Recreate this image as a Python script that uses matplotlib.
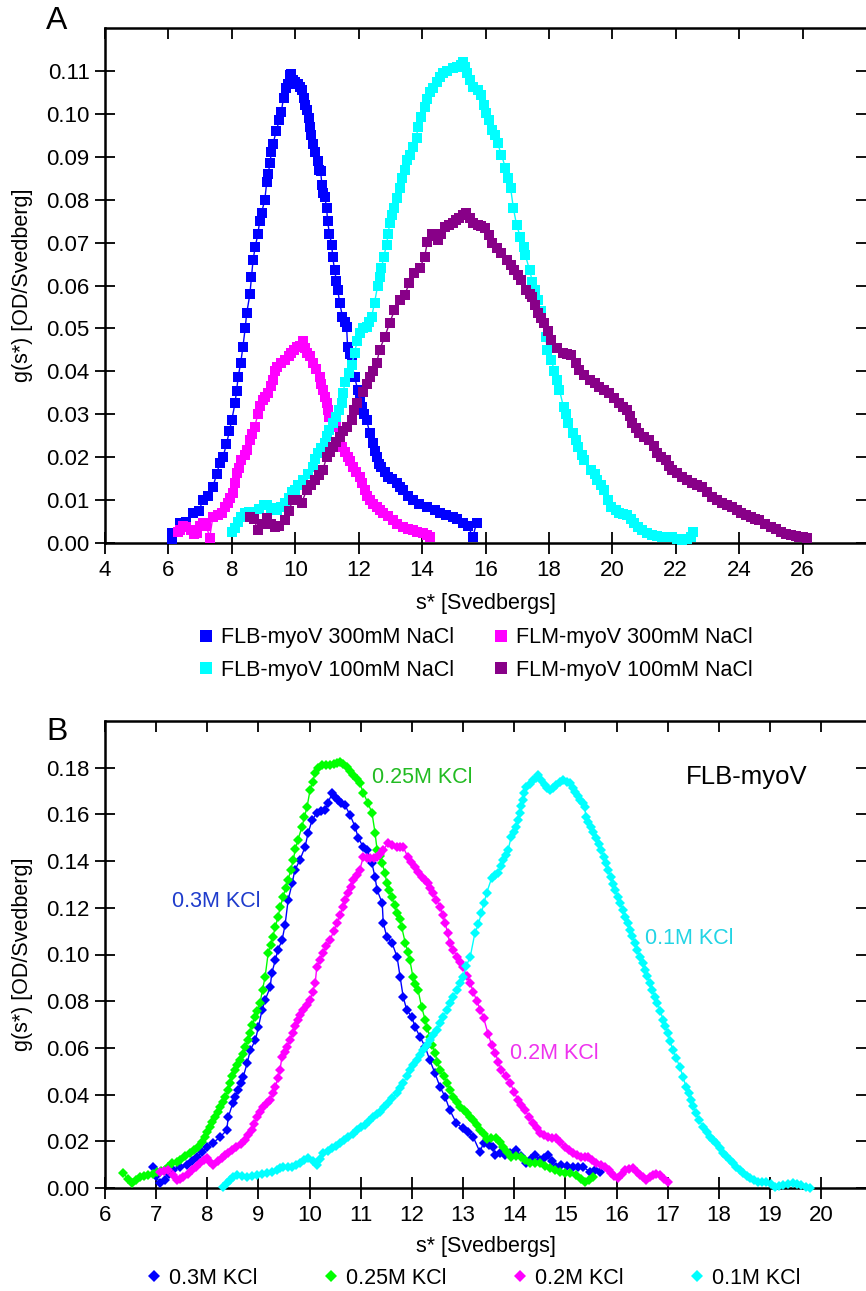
import numpy as np
import matplotlib
matplotlib.use("Agg")
import matplotlib.pyplot as plt
from matplotlib.lines import Line2D
from matplotlib.ticker import FormatStrFormatter

plt.rcParams['font.family'] = ['Liberation Sans', 'DejaVu Sans']

# ---------------- Panel A data: (s*, g(s*)) ----------------
a_flb300 = [(6.10,0.0010),(6.12,0.0023),(6.36,0.0047),(6.55,0.0050),(6.77,0.0070),(6.95,0.0075),
 (7.10,0.0100),(7.25,0.0110),(7.40,0.0130),(7.52,0.0160),(7.62,0.0187),(7.72,0.0200),(7.83,0.0230),
 (7.92,0.0260),(8.00,0.0287),(8.10,0.0326),(8.15,0.0355),(8.20,0.0387),(8.28,0.0420),(8.35,0.0457),
 (8.42,0.0500),(8.47,0.0536),(8.57,0.0580),(8.62,0.0620),(8.67,0.0660),(8.74,0.0690),(8.82,0.0720),
 (8.88,0.0750),(8.94,0.0770),(9.04,0.0800),(9.10,0.0840),(9.15,0.0860),(9.20,0.0886),(9.25,0.0910),
 (9.30,0.0930),(9.40,0.0960),(9.50,0.0986),(9.56,0.1005),(9.63,0.1037),(9.70,0.1060),(9.76,0.1070),
 (9.83,0.1090),(9.88,0.1092),(9.92,0.1080),(10.00,0.1075),(10.08,0.1070),(10.14,0.1063),(10.20,0.1055),
 (10.27,0.1037),(10.32,0.1020),(10.36,0.1010),(10.42,0.0990),(10.46,0.0970),(10.50,0.0950),(10.55,0.0930),
 (10.62,0.0910),(10.71,0.0890),(10.76,0.0870),(10.80,0.0866),(10.84,0.0835),(10.88,0.0815),(10.93,0.0807),
 (10.99,0.0780),(11.02,0.0750),(11.08,0.0720),(11.15,0.0695),(11.18,0.0667),(11.24,0.0636),(11.30,0.0610),
 (11.34,0.0590),(11.40,0.0560),(11.49,0.0527),(11.56,0.0515),(11.62,0.0504),(11.65,0.0457),(11.72,0.0440),
 (11.78,0.0420),(11.87,0.0387),(11.97,0.0357),(12.03,0.0335),(12.09,0.0317),(12.18,0.0300),(12.25,0.0287),
 (12.35,0.0256),(12.44,0.0233),(12.50,0.0215),(12.57,0.0200),(12.65,0.0185),(12.72,0.0177),(12.82,0.0165),
 (12.91,0.0154),(13.05,0.0148),(13.20,0.0140),(13.30,0.0130),(13.39,0.0124),(13.55,0.0110),(13.70,0.0100),
 (13.90,0.0092),(14.14,0.0084),(14.40,0.0076),(14.55,0.0070),(14.75,0.0065),(14.96,0.0060),(15.10,0.0055),
 (15.28,0.0047),(15.45,0.0040),(15.60,0.0014),(15.72,0.0047)]

a_flm300 = [(6.30,0.0025),(6.36,0.0030),(6.45,0.0040),(6.57,0.0037),(6.70,0.0030),(6.80,0.0020),(6.90,0.0023),
 (7.00,0.0040),(7.10,0.0047),(7.20,0.0040),(7.30,0.0012),(7.40,0.0060),(7.55,0.0065),(7.68,0.0070),
 (7.80,0.0085),(7.87,0.0093),(7.95,0.0105),(8.03,0.0117),(8.10,0.0140),(8.15,0.0163),(8.22,0.0175),
 (8.30,0.0193),(8.40,0.0205),(8.47,0.0217),(8.57,0.0240),(8.65,0.0255),(8.72,0.0270),(8.82,0.0300),
 (8.90,0.0320),(8.98,0.0333),(9.05,0.0340),(9.13,0.0350),(9.22,0.0365),(9.30,0.0380),(9.35,0.0400),
 (9.42,0.0410),(9.55,0.0420),(9.67,0.0427),(9.80,0.0435),(9.88,0.0443),(9.96,0.0450),(10.04,0.0457),
 (10.15,0.0460),(10.24,0.0470),(10.30,0.0455),(10.36,0.0443),(10.45,0.0435),(10.55,0.0420),(10.65,0.0405),
 (10.77,0.0387),(10.82,0.0370),(10.87,0.0357),(10.93,0.0340),(10.99,0.0326),(11.04,0.0310),(11.08,0.0294),
 (11.18,0.0280),(11.30,0.0270),(11.40,0.0245),(11.49,0.0224),(11.57,0.0212),(11.65,0.0200),(11.72,0.0190),
 (11.81,0.0177),(11.92,0.0165),(12.03,0.0154),(12.10,0.0140),(12.19,0.0124),(12.27,0.0110),(12.35,0.0100),
 (12.45,0.0092),(12.57,0.0084),(12.66,0.0077),(12.76,0.0070),(12.92,0.0062),(13.07,0.0054),(13.22,0.0045),
 (13.39,0.0037),(13.55,0.0033),(13.70,0.0030),(13.85,0.0025),(14.02,0.0023),(14.15,0.0018),(14.24,0.0015)]

a_flb100 = [(8.00,0.0026),(8.10,0.0035),(8.20,0.0050),(8.30,0.0060),(8.41,0.0070),(8.55,0.0072),(8.67,0.0073),
 (8.85,0.0080),(9.00,0.0088),(9.10,0.0088),(9.25,0.0082),(9.42,0.0077),(9.55,0.0085),(9.67,0.0093),
 (9.80,0.0105),(9.90,0.0118),(9.98,0.0124),(10.10,0.0135),(10.24,0.0147),(10.40,0.0160),(10.55,0.0177),
 (10.63,0.0195),(10.71,0.0210),(10.82,0.0222),(10.93,0.0233),(11.00,0.0250),(11.08,0.0263),(11.20,0.0280),
 (11.30,0.0294),(11.38,0.0310),(11.46,0.0326),(11.52,0.0350),(11.56,0.0375),(11.68,0.0395),(11.78,0.0415),
 (11.87,0.0443),(11.95,0.0470),(12.03,0.0490),(12.13,0.0500),(12.25,0.0504),(12.33,0.0515),(12.41,0.0527),
 (12.50,0.0560),(12.60,0.0600),(12.66,0.0620),(12.72,0.0640),(12.79,0.0667),(12.88,0.0695),(12.93,0.0720),
 (12.98,0.0746),(13.05,0.0765),(13.13,0.0780),(13.20,0.0805),(13.29,0.0828),(13.37,0.0850),(13.45,0.0870),
 (13.54,0.0893),(13.62,0.0905),(13.70,0.0923),(13.83,0.0944),(13.86,0.0970),(13.98,0.0993),(14.08,0.1016),
 (14.16,0.1035),(14.24,0.1050),(14.35,0.1060),(14.46,0.1075),(14.55,0.1085),(14.65,0.1095),(14.80,0.1100),
 (14.96,0.1107),(15.10,0.1110),(15.24,0.1114),(15.28,0.1121),(15.35,0.1110),(15.43,0.1095),(15.52,0.1080),
 (15.60,0.1063),(15.75,0.1055),(15.87,0.1044),(15.95,0.1020),(16.03,0.1002),(16.10,0.0985),(16.19,0.0963),
 (16.30,0.0950),(16.38,0.0932),(16.50,0.0905),(16.63,0.0874),(16.72,0.0850),(16.79,0.0828),(16.88,0.0780),
 (16.98,0.0741),(17.10,0.0713),(17.20,0.0690),(17.26,0.0670),(17.39,0.0636),(17.48,0.0608),(17.56,0.0590),
 (17.64,0.0566),(17.75,0.0540),(17.83,0.0513),(17.90,0.0480),(17.95,0.0450),(18.08,0.0427),(18.17,0.0400),
 (18.25,0.0380),(18.33,0.0357),(18.46,0.0317),(18.53,0.0300),(18.61,0.0280),(18.77,0.0256),(18.85,0.0240),
 (18.93,0.0224),(19.05,0.0205),(19.12,0.0193),(19.34,0.0170),(19.45,0.0160),(19.53,0.0147),(19.65,0.0135),
 (19.75,0.0124),(19.85,0.0100),(19.97,0.0084),(20.10,0.0078),(20.22,0.0070),(20.35,0.0068),(20.47,0.0065),
 (20.60,0.0055),(20.69,0.0047),(20.82,0.0038),(20.94,0.0030),(21.10,0.0024),(21.26,0.0019),(21.40,0.0017),
 (21.57,0.0014),(21.75,0.0014),(21.89,0.0014),(22.05,0.0010),(22.20,0.0007),(22.35,0.0010),(22.48,0.0014),
 (22.55,0.0025)]

a_flm100 = [(8.57,0.0060),(8.70,0.0055),(8.82,0.0030),(8.95,0.0045),(9.10,0.0058),(9.22,0.0045),(9.36,0.0037),
 (9.50,0.0040),(9.67,0.0054),(9.80,0.0075),(9.92,0.0100),(10.05,0.0100),(10.20,0.0093),(10.36,0.0124),
 (10.50,0.0135),(10.61,0.0147),(10.75,0.0158),(10.87,0.0170),(10.99,0.0200),(11.10,0.0212),(11.18,0.0224),
 (11.30,0.0235),(11.40,0.0247),(11.52,0.0260),(11.62,0.0270),(11.78,0.0287),(11.86,0.0310),(11.94,0.0326),
 (12.13,0.0352),(12.25,0.0370),(12.35,0.0387),(12.45,0.0400),(12.57,0.0420),(12.66,0.0450),(12.82,0.0480),
 (12.98,0.0513),(13.13,0.0543),(13.29,0.0566),(13.45,0.0578),(13.60,0.0606),(13.76,0.0630),(13.92,0.0640),
 (14.08,0.0667),(14.17,0.0702),(14.30,0.0720),(14.40,0.0715),(14.49,0.0706),(14.60,0.0720),(14.71,0.0737),
 (14.85,0.0742),(14.96,0.0746),(15.07,0.0752),(15.18,0.0758),(15.28,0.0765),(15.40,0.0769),(15.50,0.0758),
 (15.60,0.0746),(15.75,0.0742),(15.87,0.0738),(15.97,0.0734),(16.10,0.0718),(16.22,0.0700),(16.35,0.0688),
 (16.50,0.0676),(16.69,0.0660),(16.80,0.0648),(16.91,0.0636),(17.02,0.0625),(17.13,0.0613),(17.29,0.0590),
 (17.40,0.0580),(17.48,0.0573),(17.56,0.0555),(17.64,0.0536),(17.76,0.0525),(17.86,0.0513),(17.97,0.0495),
 (18.08,0.0473),(18.25,0.0455),(18.43,0.0443),(18.57,0.0440),(18.71,0.0438),(18.85,0.0420),(18.96,0.0403),
 (19.10,0.0392),(19.28,0.0380),(19.45,0.0372),(19.59,0.0364),(19.75,0.0357),(19.90,0.0350),(20.05,0.0338),
 (20.22,0.0326),(20.35,0.0318),(20.47,0.0310),(20.55,0.0295),(20.63,0.0280),(20.75,0.0268),(20.85,0.0256),
 (21.00,0.0248),(21.17,0.0240),(21.30,0.0225),(21.42,0.0210),(21.55,0.0200),(21.70,0.0193),(21.80,0.0180),
 (21.89,0.0170),(22.05,0.0162),(22.20,0.0154),(22.35,0.0147),(22.52,0.0140),(22.68,0.0135),(22.83,0.0130),
 (23.00,0.0118),(23.15,0.0107),(23.30,0.0100),(23.46,0.0093),(23.62,0.0088),(23.78,0.0084),(23.92,0.0077),
 (24.06,0.0070),(24.22,0.0065),(24.38,0.0060),(24.50,0.0057),(24.63,0.0054),(24.80,0.0045),(25.00,0.0037),
 (25.15,0.0032),(25.32,0.0026),(25.48,0.0022),(25.64,0.0019),(25.78,0.0016),(25.89,0.0014),(26.02,0.0013),
 (26.14,0.0012)]

a_labels = ["FLB-myoV 300mM NaCl", "FLM-myoV 300mM NaCl", "FLB-myoV 100mM NaCl", "FLM-myoV 100mM NaCl"]
a_colors = ["#0000ff", "#ff00ff", "#00ffff", "#880088"]

# ---------------- Panel B data ----------------
b_03 = [(6.94,0.0090),(7.00,0.0050),(7.07,0.0020),(7.17,0.0034),(7.25,0.0060),(7.33,0.0077),(7.47,0.0090),
 (7.60,0.0099),(7.70,0.0115),(7.80,0.0133),(7.90,0.0155),(7.99,0.0176),(8.11,0.0193),(8.25,0.0218),
 (8.38,0.0248),(8.41,0.0304),(8.50,0.0364),(8.55,0.0390),(8.60,0.0420),(8.65,0.0450),(8.70,0.0475),
 (8.78,0.0535),(8.84,0.0590),(8.94,0.0634),(9.00,0.0690),(9.07,0.0762),(9.13,0.0805),(9.23,0.0860),
 (9.26,0.0920),(9.33,0.0976),(9.38,0.1020),(9.46,0.1060),(9.52,0.1126),(9.58,0.1233),(9.66,0.1306),
 (9.71,0.1360),(9.81,0.1405),(9.91,0.1460),(9.97,0.1520),(10.05,0.1576),(10.14,0.1606),(10.22,0.1615),
 (10.30,0.1619),(10.36,0.1650),(10.44,0.1690),(10.50,0.1675),(10.56,0.1660),(10.62,0.1650),(10.69,0.1640),
 (10.79,0.1598),(10.89,0.1546),(10.95,0.1500),(11.05,0.1460),(11.12,0.1447),(11.22,0.1390),(11.28,0.1330),
 (11.32,0.1276),(11.42,0.1220),(11.44,0.1135),(11.51,0.1075),(11.61,0.1050),(11.71,0.0990),(11.77,0.0904),
 (11.83,0.0818),(11.90,0.0762),(12.00,0.0732),(12.06,0.0690),(12.16,0.0647),(12.26,0.0604),(12.35,0.0548),
 (12.45,0.0492),(12.55,0.0433),(12.65,0.0390),(12.74,0.0334),(12.87,0.0278),(13.00,0.0255),(13.10,0.0240),
 (13.20,0.0218),(13.33,0.0154),(13.40,0.0193),(13.50,0.0185),(13.59,0.0176),(13.62,0.0141),(13.72,0.0150),
 (13.82,0.0141),(13.92,0.0152),(14.04,0.0163),(14.13,0.0135),(14.23,0.0107),(14.33,0.0125),(14.41,0.0141),
 (14.50,0.0120),(14.58,0.0130),(14.66,0.0141),(14.74,0.0115),(14.82,0.0090),(14.91,0.0099),(15.03,0.0095),
 (15.15,0.0090),(15.25,0.0092),(15.35,0.0090),(15.48,0.0069),(15.58,0.0075),(15.68,0.0069)]

b_025 = [(6.35,0.0064),(6.45,0.0040),(6.53,0.0020),(6.60,0.0035),(6.68,0.0047),(6.76,0.0050),(6.84,0.0056),
 (6.93,0.0062),(7.02,0.0069),(7.10,0.0072),(7.17,0.0077),(7.24,0.0090),(7.31,0.0107),(7.40,0.0112),
 (7.47,0.0120),(7.56,0.0135),(7.66,0.0150),(7.74,0.0162),(7.82,0.0176),(7.90,0.0195),(7.96,0.0218),
 (8.00,0.0240),(8.05,0.0261),(8.10,0.0282),(8.15,0.0304),(8.20,0.0325),(8.25,0.0347),(8.30,0.0368),
 (8.35,0.0390),(8.40,0.0420),(8.44,0.0450),(8.49,0.0478),(8.54,0.0505),(8.59,0.0525),(8.64,0.0548),
 (8.69,0.0575),(8.74,0.0604),(8.79,0.0635),(8.83,0.0664),(8.88,0.0700),(8.93,0.0732),(8.98,0.0760),
 (9.03,0.0792),(9.08,0.0850),(9.13,0.0904),(9.19,0.1006),(9.24,0.1040),(9.28,0.1075),(9.33,0.1118),
 (9.38,0.1160),(9.43,0.1205),(9.48,0.1246),(9.53,0.1285),(9.58,0.1319),(9.63,0.1360),(9.68,0.1405),
 (9.72,0.1450),(9.77,0.1490),(9.85,0.1546),(9.90,0.1590),(9.95,0.1632),(10.01,0.1705),(10.06,0.1740),
 (10.11,0.1777),(10.17,0.1800),(10.24,0.1812),(10.32,0.1812),(10.40,0.1812),(10.47,0.1815),(10.53,0.1820),
 (10.59,0.1824),(10.66,0.1815),(10.73,0.1803),(10.79,0.1785),(10.85,0.1769),(10.92,0.1750),(10.98,0.1734),
 (11.05,0.1692),(11.14,0.1649),(11.22,0.1606),(11.28,0.1520),(11.32,0.1447),(11.37,0.1420),(11.42,0.1390),
 (11.47,0.1350),(11.51,0.1306),(11.56,0.1275),(11.61,0.1246),(11.66,0.1210),(11.71,0.1178),(11.76,0.1150),
 (11.80,0.1118),(11.87,0.1050),(11.92,0.1010),(11.96,0.0976),(12.02,0.0904),(12.07,0.0875),(12.12,0.0848),
 (12.19,0.0775),(12.26,0.0720),(12.30,0.0685),(12.35,0.0647),(12.40,0.0612),(12.45,0.0578),(12.50,0.0540),
 (12.55,0.0505),(12.62,0.0478),(12.69,0.0450),(12.75,0.0420),(12.81,0.0390),(12.88,0.0368),(12.94,0.0347),
 (13.01,0.0335),(13.08,0.0321),(13.14,0.0305),(13.20,0.0291),(13.27,0.0270),(13.33,0.0248),(13.40,0.0232),
 (13.46,0.0210),(13.55,0.0212),(13.65,0.0214),(13.72,0.0195),(13.78,0.0176),(13.86,0.0155),(13.94,0.0133),
 (14.03,0.0135),(14.13,0.0133),(14.22,0.0120),(14.31,0.0107),(14.40,0.0108),(14.50,0.0107),(14.60,0.0095),
 (14.70,0.0086),(14.80,0.0078),(14.90,0.0069),(15.00,0.0066),(15.09,0.0064),(15.21,0.0056),(15.30,0.0040),
 (15.38,0.0026),(15.46,0.0035),(15.54,0.0047)]

b_02 = [(7.07,0.0069),(7.15,0.0074),(7.23,0.0077),(7.32,0.0055),(7.40,0.0034),(7.47,0.0040),(7.53,0.0047),
 (7.62,0.0062),(7.70,0.0077),(7.78,0.0092),(7.86,0.0107),(7.93,0.0118),(7.99,0.0128),(8.05,0.0112),
 (8.11,0.0099),(8.20,0.0114),(8.28,0.0128),(8.35,0.0140),(8.41,0.0150),(8.49,0.0162),(8.57,0.0176),
 (8.66,0.0190),(8.74,0.0206),(8.80,0.0225),(8.87,0.0248),(8.92,0.0275),(8.97,0.0304),(9.03,0.0325),
 (9.09,0.0347),(9.16,0.0362),(9.23,0.0377),(9.28,0.0405),(9.33,0.0433),(9.38,0.0470),(9.42,0.0505),
 (9.46,0.0561),(9.51,0.0582),(9.56,0.0604),(9.62,0.0635),(9.68,0.0664),(9.72,0.0692),(9.77,0.0720),
 (9.82,0.0742),(9.87,0.0762),(9.94,0.0783),(10.01,0.0805),(10.06,0.0840),(10.11,0.0878),(10.14,0.0946),
 (10.20,0.0976),(10.26,0.1006),(10.33,0.1035),(10.40,0.1062),(10.47,0.1100),(10.54,0.1135),(10.60,0.1170),
 (10.65,0.1203),(10.70,0.1233),(10.75,0.1263),(10.80,0.1290),(10.85,0.1319),(10.92,0.1340),(10.98,0.1362),
 (11.05,0.1418),(11.12,0.1415),(11.18,0.1413),(11.25,0.1415),(11.32,0.1418),(11.38,0.1432),(11.44,0.1447),
 (11.53,0.1477),(11.62,0.1468),(11.71,0.1460),(11.77,0.1462),(11.83,0.1460),(11.92,0.1418),(11.99,0.1395),
 (12.06,0.1375),(12.12,0.1353),(12.19,0.1332),(12.25,0.1320),(12.31,0.1306),(12.36,0.1285),(12.41,0.1263),
 (12.48,0.1235),(12.55,0.1203),(12.60,0.1170),(12.65,0.1135),(12.70,0.1090),(12.74,0.1050),(12.81,0.1020),
 (12.88,0.0990),(12.94,0.0968),(13.00,0.0946),(13.07,0.0910),(13.14,0.0878),(13.20,0.0840),(13.27,0.0800),
 (13.34,0.0762),(13.40,0.0730),(13.49,0.0660),(13.56,0.0612),(13.63,0.0578),(13.69,0.0540),(13.75,0.0505),
 (13.84,0.0478),(13.92,0.0450),(14.00,0.0412),(14.07,0.0377),(14.14,0.0355),(14.21,0.0334),(14.29,0.0305),
 (14.37,0.0278),(14.44,0.0258),(14.50,0.0236),(14.58,0.0225),(14.66,0.0218),(14.74,0.0215),(14.82,0.0214),
 (14.90,0.0195),(14.99,0.0176),(15.07,0.0162),(15.15,0.0150),(15.23,0.0140),(15.31,0.0133),(15.38,0.0133),
 (15.44,0.0133),(15.52,0.0120),(15.60,0.0107),(15.70,0.0098),(15.78,0.0090),(15.85,0.0075),(15.90,0.0064),
 (15.96,0.0052),(16.03,0.0043),(16.10,0.0060),(16.17,0.0077),(16.25,0.0082),(16.32,0.0086),(16.40,0.0070),
 (16.46,0.0056),(16.52,0.0045),(16.58,0.0034),(16.65,0.0045),(16.71,0.0056),(16.78,0.0058),(16.85,0.0056),
 (16.92,0.0040),(17.00,0.0026)]

b_01 = [(8.31,0.0004),(8.38,0.0020),(8.44,0.0034),(8.51,0.0045),(8.58,0.0056),(8.68,0.0052),(8.78,0.0047),
 (8.88,0.0052),(8.97,0.0056),(9.07,0.0060),(9.17,0.0064),(9.27,0.0070),(9.36,0.0077),(9.42,0.0085),
 (9.48,0.0090),(9.57,0.0090),(9.66,0.0090),(9.74,0.0098),(9.81,0.0107),(9.89,0.0118),(9.97,0.0128),
 (10.06,0.0114),(10.14,0.0099),(10.20,0.0125),(10.26,0.0150),(10.35,0.0160),(10.44,0.0171),(10.52,0.0182),
 (10.59,0.0193),(10.67,0.0205),(10.75,0.0218),(10.84,0.0233),(10.93,0.0248),(11.00,0.0260),(11.08,0.0270),
 (11.16,0.0287),(11.24,0.0304),(11.31,0.0315),(11.38,0.0326),(11.45,0.0345),(11.53,0.0364),(11.62,0.0385),
 (11.71,0.0407),(11.77,0.0430),(11.83,0.0450),(11.90,0.0478),(11.96,0.0505),(12.03,0.0527),(12.10,0.0548),
 (12.16,0.0570),(12.22,0.0591),(12.29,0.0612),(12.35,0.0634),(12.42,0.0655),(12.49,0.0677),(12.55,0.0705),
 (12.61,0.0732),(12.68,0.0762),(12.74,0.0792),(12.81,0.0820),(12.88,0.0848),(12.94,0.0876),(13.00,0.0904),
 (13.06,0.0950),(13.14,0.0990),(13.23,0.1090),(13.30,0.1130),(13.36,0.1178),(13.41,0.1220),(13.46,0.1263),
 (13.56,0.1328),(13.62,0.1340),(13.69,0.1350),(13.74,0.1378),(13.78,0.1405),(13.83,0.1425),(13.88,0.1447),
 (13.94,0.1503),(13.99,0.1525),(14.04,0.1546),(14.08,0.1576),(14.11,0.1606),(14.14,0.1634),(14.17,0.1662),
 (14.20,0.1690),(14.23,0.1717),(14.30,0.1732),(14.37,0.1747),(14.42,0.1758),(14.47,0.1769),(14.53,0.1748),
 (14.60,0.1726),(14.65,0.1715),(14.70,0.1705),(14.76,0.1715),(14.82,0.1726),(14.89,0.1737),(14.96,0.1747),
 (15.03,0.1740),(15.09,0.1734),(15.14,0.1715),(15.19,0.1696),(15.24,0.1680),(15.29,0.1662),(15.34,0.1647),
 (15.38,0.1632),(15.40,0.1589),(15.45,0.1568),(15.50,0.1546),(15.55,0.1523),(15.60,0.1500),(15.65,0.1473),
 (15.70,0.1447),(15.75,0.1418),(15.79,0.1390),(15.84,0.1360),(15.89,0.1330),(15.93,0.1303),(15.97,0.1276),
 (16.02,0.1248),(16.07,0.1220),(16.12,0.1190),(16.17,0.1160),(16.22,0.1133),(16.26,0.1105),(16.31,0.1078),
 (16.36,0.1050),(16.41,0.1020),(16.46,0.0990),(16.51,0.0962),(16.56,0.0934),(16.60,0.0906),(16.65,0.0878),
 (16.70,0.0848),(16.75,0.0818),(16.80,0.0792),(16.86,0.0756),(16.91,0.0720),(16.95,0.0692),(17.00,0.0664),
 (17.05,0.0628),(17.10,0.0591),(17.17,0.0555),(17.24,0.0518),(17.30,0.0475),(17.36,0.0433),(17.41,0.0405),
 (17.46,0.0377),(17.50,0.0350),(17.55,0.0321),(17.62,0.0290),(17.69,0.0261),(17.76,0.0240),(17.83,0.0218),
 (17.89,0.0205),(17.95,0.0193),(18.02,0.0172),(18.08,0.0150),(18.15,0.0135),(18.22,0.0120),(18.28,0.0105),
 (18.34,0.0090),(18.41,0.0077),(18.48,0.0064),(18.55,0.0053),(18.61,0.0043),(18.69,0.0035),(18.77,0.0026),
 (18.85,0.0026),(18.93,0.0026),(19.02,0.0015),(19.10,0.0004),(19.18,0.0009),(19.26,0.0013),(19.35,0.0017),
 (19.45,0.0021),(19.53,0.0017),(19.61,0.0013),(19.70,0.0006),(19.78,0.0000)]

b_labels = ["0.3M KCl", "0.25M KCl", "0.2M KCl", "0.1M KCl"]
b_colors = ["#0000ff", "#00ff00", "#ff00ff", "#00ffff"]
b_text_colors = ["#1f3ccc", "#22bb22", "#ee33ee", "#22d4e4"]

# ---------------- Figure ----------------
W, H = 866, 1291
fig = plt.figure(figsize=(W / 100, H / 100), dpi=100)

def fx(px):
    return px / W

def fy(py):
    return 1 - py / H

axA = fig.add_axes([fx(105), fy(543), (866 - 105) / W, (543 - 28) / H])
axB = fig.add_axes([fx(105), fy(1188), (866 - 105) / W, (1188 - 721) / H])

FS = 15.5
TFS = 16

def style(ax, xlim, ylim, xticks, yticks, yfmt):
    ax.set_xlim(*xlim)
    ax.set_ylim(*ylim)
    ax.set_xticks(xticks)
    ax.set_yticks(yticks)
    ax.yaxis.set_major_formatter(FormatStrFormatter(yfmt))
    ax.spines['right'].set_visible(False)
    for s in ['left', 'top', 'bottom']:
        ax.spines[s].set_linewidth(1.8)
    ax.tick_params(axis='both', direction='inout', width=1.3, labelsize=TFS)
    ax.tick_params(axis='x', length=16, pad=4)
    ax.tick_params(axis='y', length=14, pad=4)
    sx = ax.secondary_xaxis('top')
    sx.set_xticks(xticks)
    sx.set_xticklabels([])
    sx.tick_params(direction='in', length=8, width=1.3)
    sx.spines['top'].set_visible(False)
    sy = ax.secondary_yaxis('right')
    sy.set_yticks(yticks)
    sy.set_yticklabels([])
    sy.tick_params(direction='in', length=7, width=1.3)
    sy.spines['right'].set_visible(False)

# Panel A
for data, c in zip([a_flb300, a_flm300, a_flb100, a_flm100], a_colors):
    s, g = np.array(data).T
    axA.plot(s, g, '-', color=c, lw=1.0, marker='s', ms=7, mew=0, clip_on=False, zorder=3)
style(axA, (4, 28), (0, 0.12), np.arange(4, 27, 2), np.arange(0, 0.111, 0.01), '%.2f')
axA.set_xlabel("s* [Svedbergs]", fontsize=FS)
axA.xaxis.set_label_coords(0.5, -0.098)
axA.set_ylabel("g(s*) [OD/Svedberg]", fontsize=FS)
axA.yaxis.set_label_coords(-0.094, 0.5)

# Panel B
for data, c in zip([b_03, b_025, b_02, b_01], b_colors):
    s, g = np.array(data).T
    axB.plot(s, g, '-', color=c, lw=1.0, marker='D', ms=4.6, mew=0, clip_on=False, zorder=3)
style(axB, (6, 6 + 761 / 51.15), (0, 0.20), np.arange(6, 21, 1), np.arange(0, 0.181, 0.02), '%.2f')
axB.set_xlabel("s* [Svedbergs]", fontsize=FS)
axB.xaxis.set_label_coords(0.5, -0.102)
axB.set_ylabel("g(s*) [OD/Svedberg]", fontsize=FS)
axB.yaxis.set_label_coords(-0.094, 0.5)

# Panel B annotations
axB.text(11.22, 0.176, "0.25M KCl", color=b_text_colors[1], fontsize=FS, ha='left', va='center')
axB.text(7.31, 0.1225, "0.3M KCl", color=b_text_colors[0], fontsize=FS, ha='left', va='center')
axB.text(16.56, 0.107, "0.1M KCl", color=b_text_colors[3], fontsize=FS, ha='left', va='center')
axB.text(13.92, 0.0578, "0.2M KCl", color=b_text_colors[2], fontsize=FS, ha='left', va='center')
axB.text(17.36, 0.176, "FLB-myoV", color='black', fontsize=18.5, ha='left', va='center')

# Panel letters
fig.text(fx(57), fy(21), "A", fontsize=23, ha='center', va='center')
fig.text(fx(57), fy(732), "B", fontsize=23, ha='center', va='center')

# Legends
hA = [Line2D([], [], ls='none', marker='s', ms=8, mew=0, color=c) for c in a_colors]
order = [0, 2, 1, 3]
fig.legend([hA[i] for i in order], [a_labels[i] for i in order], ncol=2, loc='center',
           bbox_to_anchor=(fx(476), fy(654)), frameon=False, fontsize=FS,
           handlelength=0.6, handletextpad=0.4, columnspacing=1.9, labelspacing=0.55,
           borderpad=0, borderaxespad=0)

hB = [Line2D([], [], ls='none', marker='D', ms=6, mew=0, color=c) for c in b_colors]
fig.legend(hB, b_labels, ncol=4, loc='center', bbox_to_anchor=(fx(474), fy(1278)),
           frameon=False, fontsize=FS, handlelength=0.6, handletextpad=0.4,
           columnspacing=3.1, borderpad=0, borderaxespad=0)

fig.savefig("out.png", dpi=100)
